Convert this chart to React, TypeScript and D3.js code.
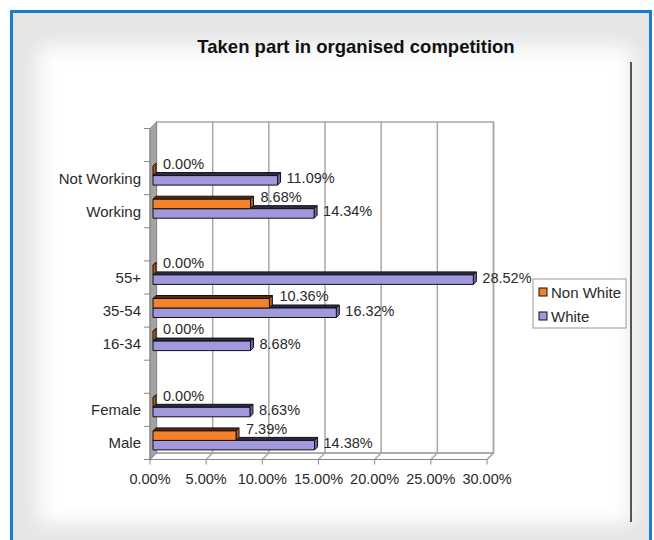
import React from "react";
import * as d3 from "d3";

const categories = ["", "Not Working", "Working", "", "55+", "35-54", "16-34", "", "Female", "Male"];
const nonWhite: (number | null)[] = [null, 0, 8.68, null, 0, 10.36, 0, null, 0, 7.39];
const white: (number | null)[] = [null, 11.09, 14.34, null, 28.52, 16.32, 8.68, null, 8.63, 14.38];
const xTicks = [0, 5, 10, 15, 20, 25, 30];
const seriesNames = ["Non White", "White"];
const title = "Taken part in organised competition";

const W = 654, H = 540;
const FONT = "'Liberation Sans', Arial, sans-serif";
const ORANGE = { front: "#f5822a", top: "#5a2a08", side: "#b85a14" };
const PURPLE = { front: "#a099dc", top: "#2e2b4a", side: "#6e68ae" };
const TXT = "#2a2a2a";

export default function App() {
  const xf = d3.scaleLinear().domain([0, 30]).range([150, 487]);
  const y = d3.scaleBand<number>().domain(d3.range(categories.length)).range([128.5, 459.5]);
  const DX = 6.5, DY = -6.5;
  const floorY = 459.5, backBottom = floorY + DY, backTop = 122;
  const d = 3, h = 9.5;
  const fmt = (v: number) => v.toFixed(2) + "%";

  const bar = (v: number, yTop: number, c: typeof ORANGE, key: string) => {
    const x0 = xf(0) + 3, x1 = xf(v) + 3;
    return (
      <g key={key} stroke="#111" strokeWidth={1} strokeLinejoin="round">
        <polygon points={`${x0},${yTop} ${x1},${yTop} ${x1 + d},${yTop - d} ${x0 + d},${yTop - d}`} fill={c.top} />
        <polygon points={`${x1},${yTop} ${x1 + d},${yTop - d} ${x1 + d},${yTop + h - d} ${x1},${yTop + h}`} fill={c.side} />
        <rect x={x0} y={yTop} width={Math.max(0, x1 - x0)} height={h} fill={c.front} />
      </g>
    );
  };

  const bars: React.ReactNode[] = [];
  const labels: React.ReactNode[] = [];
  categories.forEach((_, i) => {
    const st = y(i)!;
    const w = white[i];
    const nw = nonWhite[i];
    if (w != null) {
      const yt = st + 14;
      bars.push(bar(w, yt, PURPLE, "w" + i));
      labels.push(
        <text key={"lw" + i} x={xf(w) + 3 + 9} y={yt + h / 2 - 2} dominantBaseline="central">{fmt(w)}</text>
      );
    }
    if (nw != null) {
      const yt = st + 4.5;
      bars.push(bar(nw, yt, ORANGE, "n" + i));
      labels.push(
        <text key={"ln" + i} x={xf(nw) + 3 + 10} y={yt + h / 2 - 7} dominantBaseline="central">{fmt(nw)}</text>
      );
    }
  });

  return (
    <svg width={W} height={H} style={{ position: "absolute", left: 0, top: 0 }} fontFamily={FONT}>
      <defs>
        <filter id="soft" x="-10%" y="-10%" width="120%" height="120%">
          <feGaussianBlur stdDeviation="10" />
        </filter>
      </defs>
      <rect x={0} y={0} width={W} height={H} fill="#ffffff" />
      <rect x={11.5} y={11.5} width={639} height={H} fill="#e4e5e6" stroke="#1b7ccc" strokeWidth={3} />
      <rect x={38} y={46} width={594} height={478} fill="#ffffff" filter="url(#soft)" />

      {/* title */}
      <text x={356} y={53} textAnchor="middle" fontSize={18.5} fontWeight="bold" fill="#111">{title}</text>

      {/* right vertical line */}
      <line x1={631} x2={631} y1={62} y2={522} stroke="#222" strokeWidth={1.5} />

      {/* back wall */}
      <rect x={xf(0) + DX} y={backTop} width={xf(30) - xf(0)} height={backBottom - backTop} fill="#ffffff" stroke="#a8a8a8" strokeWidth={1.5} />
      {xTicks.slice(1).map((t) => (
        <g key={"g" + t} stroke="#a8a8a8" strokeWidth={1.5}>
          <line x1={xf(t) + DX} x2={xf(t) + DX} y1={backTop} y2={backBottom} />
          <line x1={xf(t) + DX} x2={xf(t)} y1={backBottom} y2={floorY} />
        </g>
      ))}
      {/* floor */}
      <polygon points={`${xf(0)},${floorY} ${xf(30)},${floorY} ${xf(30) + DX},${backBottom} ${xf(0) + DX},${backBottom}`} fill="none" stroke="#999" strokeWidth={1} />
      {/* left wall */}
      <polygon points={`${xf(0)},${128.5} ${xf(0) + DX},${backTop} ${xf(0) + DX},${backBottom} ${xf(0)},${floorY}`} fill="#a3a3a3" stroke="#8a8a8a" strokeWidth={1} />

      {/* category axis ticks */}
      <line x1={xf(0)} x2={xf(0)} y1={128.5} y2={floorY} stroke="#888" />
      {d3.range(categories.length + 1).map((i) => {
        const yy = i < categories.length ? y(i)! : floorY;
        return <line key={"ct" + i} x1={144} x2={xf(0)} y1={yy} y2={yy} stroke="#888" />;
      })}
      {categories.map((c, i) => (
        <text key={"cl" + i} x={141} y={y(i)! + y.bandwidth() / 2} textAnchor="end" dominantBaseline="central" fontSize={15} fill={TXT}>{c}</text>
      ))}

      {/* x axis ticks */}
      <line x1={xf(0)} x2={xf(30)} y1={floorY} y2={floorY} stroke="#888" />
      {xTicks.map((t) => (
        <g key={"xt" + t}>
          <line x1={xf(t)} x2={xf(t)} y1={floorY} y2={floorY + 5} stroke="#888" />
          <text x={xf(t)} y={484} textAnchor="middle" fontSize={14.5} fill={TXT}>{fmt(t)}</text>
        </g>
      ))}

      {bars}
      <g fontSize={14.5} fill={TXT}>{labels}</g>

      {/* legend */}
      <rect x={533} y={279} width={93} height={49} fill="#ffffff" stroke="#999" strokeWidth={1} />
      {seriesNames.map((s, i) => {
        const c = i === 0 ? ORANGE : PURPLE;
        const cy = 292 + i * 24;
        return (
          <g key={"lg" + s}>
            <rect x={539} y={cy - 4} width={8} height={8} fill={c.front} stroke="#111" strokeWidth={1} />
            <text x={551} y={cy} dominantBaseline="central" fontSize={15} fill={TXT}>{s}</text>
          </g>
        );
      })}
    </svg>
  );
}
